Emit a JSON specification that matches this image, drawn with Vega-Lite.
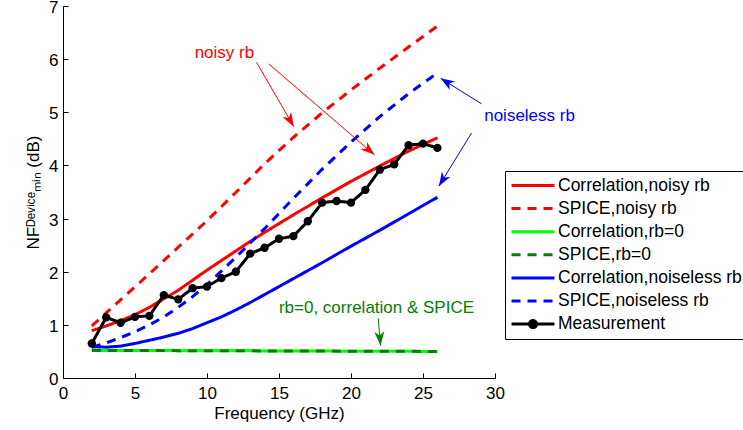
{
  "$schema": "https://vega.github.io/schema/vega-lite/v6.json",
  "width": 432,
  "height": 372,
  "autosize": {"type": "none"},
  "padding": {"left": 63, "top": 6, "right": 248, "bottom": 52},
  "background": "white",
  "config": {
    "view": {"stroke": null},
    "font": "Liberation Sans",
    "axis": {
      "grid": false,
      "domainColor": "black",
      "domainWidth": 1,
      "tickColor": "black",
      "tickSize": -5,
      "labelColor": "black",
      "titleColor": "black",
      "labelFont": "Liberation Sans",
      "titleFont": "Liberation Sans",
      "labelFontSize": 17,
      "titleFontSize": 17,
      "titleFontWeight": "normal"
    }
  },
  "datasets": {
    "curves": [
      {"series": "Correlation,noisy rb", "x": 2, "y": 0.89},
      {"series": "Correlation,noisy rb", "x": 3, "y": 0.98},
      {"series": "Correlation,noisy rb", "x": 4, "y": 1.08},
      {"series": "Correlation,noisy rb", "x": 5, "y": 1.19},
      {"series": "Correlation,noisy rb", "x": 6, "y": 1.33},
      {"series": "Correlation,noisy rb", "x": 7, "y": 1.49},
      {"series": "Correlation,noisy rb", "x": 8, "y": 1.65},
      {"series": "Correlation,noisy rb", "x": 9, "y": 1.84},
      {"series": "Correlation,noisy rb", "x": 10, "y": 2.03},
      {"series": "Correlation,noisy rb", "x": 11, "y": 2.21},
      {"series": "Correlation,noisy rb", "x": 12, "y": 2.39},
      {"series": "Correlation,noisy rb", "x": 13, "y": 2.57},
      {"series": "Correlation,noisy rb", "x": 14, "y": 2.74},
      {"series": "Correlation,noisy rb", "x": 16, "y": 3.07},
      {"series": "Correlation,noisy rb", "x": 18, "y": 3.39},
      {"series": "Correlation,noisy rb", "x": 20, "y": 3.70},
      {"series": "Correlation,noisy rb", "x": 22, "y": 3.99},
      {"series": "Correlation,noisy rb", "x": 24, "y": 4.27},
      {"series": "Correlation,noisy rb", "x": 26, "y": 4.52},
      {"series": "SPICE,noisy rb", "x": 2, "y": 0.98},
      {"series": "SPICE,noisy rb", "x": 4, "y": 1.47},
      {"series": "SPICE,noisy rb", "x": 6, "y": 1.96},
      {"series": "SPICE,noisy rb", "x": 8, "y": 2.46},
      {"series": "SPICE,noisy rb", "x": 10, "y": 2.96},
      {"series": "SPICE,noisy rb", "x": 12, "y": 3.49},
      {"series": "SPICE,noisy rb", "x": 14, "y": 4.03},
      {"series": "SPICE,noisy rb", "x": 16, "y": 4.53},
      {"series": "SPICE,noisy rb", "x": 18, "y": 4.99},
      {"series": "SPICE,noisy rb", "x": 20, "y": 5.42},
      {"series": "SPICE,noisy rb", "x": 22, "y": 5.83},
      {"series": "SPICE,noisy rb", "x": 24, "y": 6.23},
      {"series": "SPICE,noisy rb", "x": 26, "y": 6.62},
      {"series": "Correlation,rb=0", "x": 2, "y": 0.52},
      {"series": "Correlation,rb=0", "x": 8, "y": 0.515},
      {"series": "Correlation,rb=0", "x": 14, "y": 0.51},
      {"series": "Correlation,rb=0", "x": 20, "y": 0.505},
      {"series": "Correlation,rb=0", "x": 26, "y": 0.50},
      {"series": "SPICE,rb=0", "x": 2, "y": 0.52},
      {"series": "SPICE,rb=0", "x": 8, "y": 0.515},
      {"series": "SPICE,rb=0", "x": 14, "y": 0.51},
      {"series": "SPICE,rb=0", "x": 20, "y": 0.505},
      {"series": "SPICE,rb=0", "x": 26, "y": 0.50},
      {"series": "Correlation,noiseless rb", "x": 2, "y": 0.59},
      {"series": "Correlation,noiseless rb", "x": 3, "y": 0.58},
      {"series": "Correlation,noiseless rb", "x": 4, "y": 0.60},
      {"series": "Correlation,noiseless rb", "x": 5, "y": 0.65},
      {"series": "Correlation,noiseless rb", "x": 6, "y": 0.71},
      {"series": "Correlation,noiseless rb", "x": 7, "y": 0.77},
      {"series": "Correlation,noiseless rb", "x": 8, "y": 0.84},
      {"series": "Correlation,noiseless rb", "x": 9, "y": 0.93},
      {"series": "Correlation,noiseless rb", "x": 10, "y": 1.04},
      {"series": "Correlation,noiseless rb", "x": 11, "y": 1.15},
      {"series": "Correlation,noiseless rb", "x": 12, "y": 1.28},
      {"series": "Correlation,noiseless rb", "x": 13, "y": 1.42},
      {"series": "Correlation,noiseless rb", "x": 14, "y": 1.57},
      {"series": "Correlation,noiseless rb", "x": 16, "y": 1.87},
      {"series": "Correlation,noiseless rb", "x": 18, "y": 2.17},
      {"series": "Correlation,noiseless rb", "x": 20, "y": 2.48},
      {"series": "Correlation,noiseless rb", "x": 22, "y": 2.78},
      {"series": "Correlation,noiseless rb", "x": 24, "y": 3.09},
      {"series": "Correlation,noiseless rb", "x": 26, "y": 3.40},
      {"series": "SPICE,noiseless rb", "x": 2, "y": 0.58},
      {"series": "SPICE,noiseless rb", "x": 3, "y": 0.66},
      {"series": "SPICE,noiseless rb", "x": 4, "y": 0.76},
      {"series": "SPICE,noiseless rb", "x": 5, "y": 0.87},
      {"series": "SPICE,noiseless rb", "x": 6, "y": 1.00},
      {"series": "SPICE,noiseless rb", "x": 7, "y": 1.15},
      {"series": "SPICE,noiseless rb", "x": 8, "y": 1.33},
      {"series": "SPICE,noiseless rb", "x": 9, "y": 1.53},
      {"series": "SPICE,noiseless rb", "x": 10, "y": 1.76},
      {"series": "SPICE,noiseless rb", "x": 11, "y": 2.01},
      {"series": "SPICE,noiseless rb", "x": 12, "y": 2.27},
      {"series": "SPICE,noiseless rb", "x": 13, "y": 2.54},
      {"series": "SPICE,noiseless rb", "x": 14, "y": 2.81},
      {"series": "SPICE,noiseless rb", "x": 16, "y": 3.38},
      {"series": "SPICE,noiseless rb", "x": 18, "y": 3.93},
      {"series": "SPICE,noiseless rb", "x": 20, "y": 4.44},
      {"series": "SPICE,noiseless rb", "x": 22, "y": 4.92},
      {"series": "SPICE,noiseless rb", "x": 24, "y": 5.35},
      {"series": "SPICE,noiseless rb", "x": 26, "y": 5.74}
    ],
    "measurement": [
      {"series": "Measurement", "x": 2, "y": 0.65},
      {"series": "Measurement", "x": 3, "y": 1.14},
      {"series": "Measurement", "x": 4, "y": 1.04},
      {"series": "Measurement", "x": 5, "y": 1.15},
      {"series": "Measurement", "x": 6, "y": 1.17},
      {"series": "Measurement", "x": 7, "y": 1.56},
      {"series": "Measurement", "x": 8, "y": 1.48},
      {"series": "Measurement", "x": 9, "y": 1.69},
      {"series": "Measurement", "x": 10, "y": 1.72},
      {"series": "Measurement", "x": 11, "y": 1.88},
      {"series": "Measurement", "x": 12, "y": 2.00},
      {"series": "Measurement", "x": 13, "y": 2.34},
      {"series": "Measurement", "x": 14, "y": 2.45},
      {"series": "Measurement", "x": 15, "y": 2.62},
      {"series": "Measurement", "x": 16, "y": 2.67},
      {"series": "Measurement", "x": 17, "y": 2.95},
      {"series": "Measurement", "x": 18, "y": 3.30},
      {"series": "Measurement", "x": 19, "y": 3.33},
      {"series": "Measurement", "x": 20, "y": 3.30},
      {"series": "Measurement", "x": 21, "y": 3.54},
      {"series": "Measurement", "x": 22, "y": 3.92},
      {"series": "Measurement", "x": 23, "y": 4.02},
      {"series": "Measurement", "x": 24, "y": 4.38},
      {"series": "Measurement", "x": 25, "y": 4.41},
      {"series": "Measurement", "x": 26, "y": 4.33}
    ],
    "arrows": [
      {"kind": "noisy", "x": 13.44, "y": 5.94, "x2": 16.03, "y2": 4.73, "angle": 149.8},
      {"kind": "noisy", "x": 14.29, "y": 5.91, "x2": 21.63, "y2": 4.20, "angle": 130.7},
      {"kind": "noiseless", "x": 29.06, "y": 5.16, "x2": 26.22, "y2": 5.64, "angle": 302.1},
      {"kind": "noiseless", "x": 28.37, "y": 4.61, "x2": 26.1, "y2": 3.61, "angle": 211.7},
      {"kind": "rb0", "x": 21.89, "y": 1.12, "x2": 22.05, "y2": 0.61, "angle": 175.2}
    ],
    "labels": [
      {"kind": "noisy", "x": 11.21, "y": 6.12, "text": "noisy rb"},
      {"kind": "noiseless", "x": 32.4, "y": 4.93, "text": "noiseless rb"},
      {"kind": "rb0", "x": 21.77, "y": 1.32, "text": "rb=0, correlation & SPICE"}
    ]
  },
  "layer": [
    {
      "data": {"name": "curves"},
      "mark": {"type": "line", "clip": false},
      "encoding": {
        "x": {"field": "x", "type": "quantitative", "scale": {"domain": [0, 30], "nice": false},
          "axis": {"values": [0, 5, 10, 15, 20, 25, 30], "format": "d", "title": "Frequency (GHz)", "labelPadding": 12, "titlePadding": 4, "labelFlush": false}},
        "y": {"field": "y", "type": "quantitative", "scale": {"domain": [0, 7], "nice": false},
          "axis": {"values": [0, 1, 2, 3, 4, 5, 6, 7], "format": "d", "title": "NFᴰᵉᵛⁱᶜᵉₘᵢₙ (dB)", "labelPadding": 10, "labelOffset": 1.5, "titlePadding": 6, "labelFlush": false}},
        "color": {"field": "series", "type": "nominal",
          "scale": {"domain": ["Correlation,noisy rb", "SPICE,noisy rb", "Correlation,rb=0", "SPICE,rb=0", "Correlation,noiseless rb", "SPICE,noiseless rb", "Measurement"],
                    "range": ["#ff0000", "#ff0000", "#00ff00", "#007f00", "#0000ff", "#0000ff", "#000000"]},
          "legend": {"title": null, "orient": "none", "legendX": 442, "legendY": 165,
            "symbolType": "M-1,0L4.375,0", "symbolSize": 256, "symbolStrokeWidth": 3,
            "labelFont": "Liberation Sans", "labelFontSize": 17.5, "labelColor": "black", "labelOffset": 29, "labelLimit": 400,
            "rowPadding": 5.1, "padding": 5, "strokeColor": "black", "fillColor": "white",
            "encode": {"symbols": {"update": {
              "shape": {"signal": "datum.value === 'Measurement' ? 'M-1,0L4.375,0M2.125,0A0.4375,0.4375,0,1,1,1.25,0A0.4375,0.4375,0,1,1,2.125,0' : 'M-1,0L4.375,0'"},
              "fill": {"signal": "datum.value === 'Measurement' ? 'black' : 'transparent'"}
            }}}}},
        "strokeDash": {"field": "series", "type": "nominal",
          "scale": {"domain": ["Correlation,noisy rb", "SPICE,noisy rb", "Correlation,rb=0", "SPICE,rb=0", "Correlation,noiseless rb", "SPICE,noiseless rb", "Measurement"],
                    "range": [[1, 0], [9, 7], [1, 0], [9, 7], [1, 0], [9, 7], [1, 0]]},
          "legend": {"title": null, "orient": "none", "legendX": 442, "legendY": 165}},
        "strokeWidth": {"field": "series", "type": "nominal",
          "scale": {"domain": ["Correlation,noisy rb", "SPICE,noisy rb", "Correlation,rb=0", "SPICE,rb=0", "Correlation,noiseless rb", "SPICE,noiseless rb", "Measurement"],
                    "range": [3, 3, 4.5, 3, 3, 3, 2.5]},
          "legend": null}
      }
    },
    {
      "data": {"name": "measurement"},
      "mark": {"type": "line", "clip": false},
      "encoding": {
        "x": {"field": "x", "type": "quantitative"},
        "y": {"field": "y", "type": "quantitative"},
        "color": {"field": "series", "type": "nominal"},
        "strokeDash": {"field": "series", "type": "nominal"},
        "strokeWidth": {"field": "series", "type": "nominal"}
      }
    },
    {
      "data": {"name": "measurement"},
      "mark": {"type": "point", "filled": true, "color": "black", "size": 70, "opacity": 1, "clip": false},
      "encoding": {
        "x": {"field": "x", "type": "quantitative"},
        "y": {"field": "y", "type": "quantitative"}
      }
    },
    {
      "data": {"name": "arrows"},
      "mark": {"type": "rule", "strokeWidth": 1},
      "encoding": {
        "x": {"field": "x", "type": "quantitative"},
        "y": {"field": "y", "type": "quantitative"},
        "x2": {"field": "x2"},
        "y2": {"field": "y2"},
        "stroke": {"field": "kind", "type": "nominal",
          "scale": {"domain": ["noisy", "noiseless", "rb0"], "range": ["#ff0000", "#0000ff", "#007f00"]}, "legend": null}
      }
    },
    {
      "data": {"name": "arrows"},
      "mark": {"type": "point", "filled": true, "opacity": 1, "size": 400, "strokeWidth": 0,
               "shape": "M0,0L0.5,1.4L0,1L-0.5,1.4Z"},
      "encoding": {
        "x": {"field": "x2", "type": "quantitative"},
        "y": {"field": "y2", "type": "quantitative"},
        "angle": {"field": "angle", "type": "quantitative", "scale": null},
        "fill": {"field": "kind", "type": "nominal",
          "scale": {"domain": ["noisy", "noiseless", "rb0"], "range": ["#ff0000", "#0000ff", "#007f00"]}, "legend": null}
      }
    },
    {
      "data": {"name": "labels"},
      "mark": {"type": "text", "font": "Liberation Sans", "fontSize": 17, "align": "center", "baseline": "middle"},
      "encoding": {
        "x": {"field": "x", "type": "quantitative"},
        "y": {"field": "y", "type": "quantitative"},
        "text": {"field": "text"},
        "fill": {"field": "kind", "type": "nominal", "legend": null}
      }
    }
  ]
}
